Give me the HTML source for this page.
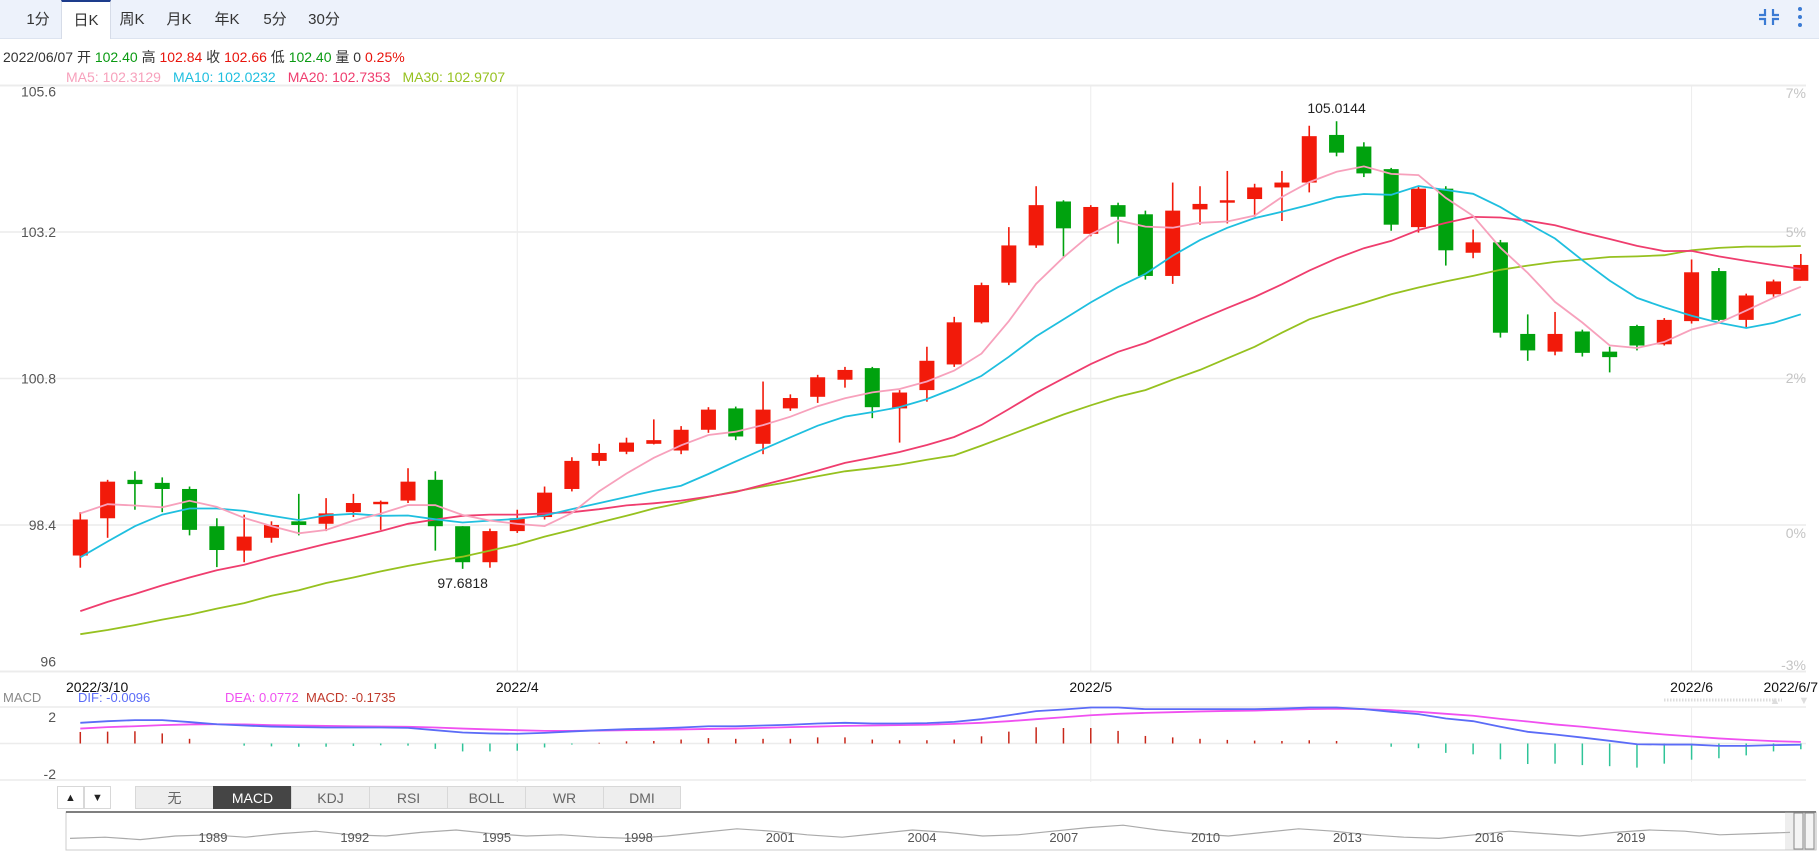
<!DOCTYPE html>
<html><head><meta charset="utf-8"><style>
html,body{margin:0;padding:0;background:#fff;width:1819px;height:863px;overflow:hidden;font-family:"Liberation Sans","Noto Sans CJK SC",sans-serif}
#tabs{position:absolute;left:0;top:0;width:1819px;height:38px;background:#edf2fb;border-bottom:1px solid #dde4f0}
.tab{position:absolute;top:0;height:38px;line-height:40px;font-size:15px;color:#333;text-align:center;width:48px}
.tab.active{background:#fff;border-top:2px solid #1d3c8c;border-left:1px solid #d6dce8;border-right:1px solid #d6dce8;height:37px;line-height:38px}
svg{position:absolute;left:0;top:0}
.btn{position:absolute;top:786px;height:23px;line-height:23px;font-size:14px;color:#666;text-align:center;background:#eeeeee;border:1px solid #d8d8d8;box-sizing:border-box}
</style></head><body>
<div id="tabs">
<div class="tab" style="left:14px">1分</div>
<div class="tab active" style="left:61px">日K</div>
<div class="tab" style="left:108px">周K</div>
<div class="tab" style="left:155px">月K</div>
<div class="tab" style="left:203px">年K</div>
<div class="tab" style="left:251px">5分</div>
<div class="tab" style="left:300px">30分</div>
</div>
<div class="btn" style="left:57px;width:27px;font-size:11px;color:#222;background:#fff">▲</div>
<div class="btn" style="left:84px;width:27px;font-size:11px;color:#222;background:#fff">▼</div>
<div class="btn" style="left:135px;width:79px">无</div>
<div class="btn" style="left:213px;width:79px;background:#454545;color:#fff;border-color:#454545">MACD</div>
<div class="btn" style="left:291px;width:79px">KDJ</div>
<div class="btn" style="left:369px;width:79px">RSI</div>
<div class="btn" style="left:447px;width:79px">BOLL</div>
<div class="btn" style="left:525px;width:79px">WR</div>
<div class="btn" style="left:603px;width:78px">DMI</div>

<svg id="chart" width="1819" height="863" xmlns="http://www.w3.org/2000/svg" font-family="Liberation Sans, Noto Sans CJK SC, sans-serif"></svg>
<script>
const opens=[97.90,98.51,99.14,99.09,98.99,98.38,97.98,98.19,98.46,98.42,98.61,98.74,98.80,99.14,98.38,97.79,98.30,98.53,98.99,99.45,99.60,99.73,99.62,99.96,100.31,99.73,100.31,100.50,100.78,100.97,100.31,100.61,101.03,101.72,102.37,102.98,103.70,103.17,103.64,103.49,102.48,103.57,103.68,103.74,103.93,104.01,104.79,104.60,104.23,103.28,103.91,102.86,103.03,101.53,101.24,101.57,101.24,101.66,101.36,101.74,102.56,101.76,102.18,102.40];
const closes=[98.49,99.11,99.07,98.99,98.32,97.99,98.21,98.40,98.40,98.59,98.76,98.78,99.11,98.38,97.79,98.30,98.51,98.93,99.45,99.58,99.75,99.79,99.96,100.29,99.85,100.29,100.48,100.82,100.94,100.33,100.57,101.09,101.72,102.33,102.98,103.64,103.26,103.61,103.45,102.48,103.55,103.66,103.72,103.93,104.01,104.77,104.50,104.16,103.32,103.91,102.90,103.03,101.55,101.26,101.53,101.22,101.15,101.34,101.76,102.54,101.76,102.16,102.39,102.66];
const highs=[98.61,99.14,99.28,99.18,99.03,98.51,98.57,98.46,98.91,98.84,98.91,98.80,99.33,99.28,98.38,98.34,98.65,99.03,99.51,99.73,99.83,100.13,100.02,100.33,100.34,100.75,100.54,100.86,100.99,100.99,100.61,101.32,101.81,102.37,103.28,103.95,103.72,103.64,103.68,103.55,104.01,103.95,104.20,103.99,104.20,104.94,105.0144,104.67,104.25,103.95,103.95,103.24,103.07,101.85,101.89,101.60,101.32,101.68,101.79,102.75,102.61,102.19,102.42,102.84];
const lows=[97.70,98.19,98.65,98.61,98.23,97.71,97.79,98.11,98.23,98.30,98.53,98.32,98.76,97.98,97.6818,97.70,98.27,98.49,98.95,99.37,99.56,99.72,99.56,99.91,99.79,99.56,100.27,100.40,100.65,100.15,99.75,100.42,100.99,101.70,102.33,102.94,102.80,103.13,103.01,102.42,102.35,103.32,103.34,103.45,103.38,103.85,104.44,104.10,103.22,103.19,102.65,102.77,101.47,101.09,101.18,101.16,100.90,101.26,101.34,101.70,101.74,101.64,102.14,102.40];
// moving average values before enough history
const ma5Head=[98.59,98.74,98.72,98.69];
const ma10Head=[97.87,98.13,98.38,98.57,98.67,98.67,98.63,98.55,98.48];
const ma20Head=[96.99,97.14,97.27,97.41,97.54,97.66,97.75,97.87,97.98,98.09,98.19,98.30,98.42,98.49,98.55,98.57,98.57,98.59,98.61];
const ma30Values=[96.61,96.68,96.76,96.85,96.93,97.03,97.12,97.24,97.33,97.45,97.54,97.64,97.73,97.81,97.88,97.98,98.08,98.21,98.32,98.44,98.55,98.67,98.76,98.86,98.95,99.03,99.11,99.20,99.28,99.33,99.39,99.47,99.54,99.70,99.87,100.04,100.21,100.36,100.50,100.61,100.78,100.94,101.13,101.32,101.55,101.77,101.91,102.04,102.18,102.29,102.39,102.48,102.58,102.65,102.71,102.75,102.79,102.80,102.82,102.90,102.94,102.96,102.96,102.97];
const difValues=[1.15,1.24,1.30,1.30,1.19,1.07,1.00,0.94,0.91,0.89,0.89,0.89,0.87,0.74,0.61,0.56,0.54,0.59,0.67,0.74,0.80,0.83,0.89,0.96,0.96,1.00,1.04,1.11,1.15,1.11,1.11,1.13,1.20,1.35,1.57,1.80,1.89,2.00,2.00,1.91,1.91,1.91,1.91,1.91,1.94,2.00,2.00,1.91,1.76,1.63,1.39,1.24,0.93,0.65,0.50,0.33,0.15,-0.04,-0.06,-0.06,-0.13,-0.13,-0.09,-0.07];
const deaValues=[0.83,0.91,0.96,1.02,1.06,1.07,1.06,1.02,1.00,0.98,0.96,0.94,0.93,0.89,0.83,0.78,0.74,0.70,0.70,0.72,0.74,0.76,0.78,0.81,0.83,0.87,0.91,0.94,0.98,1.00,1.02,1.04,1.09,1.15,1.24,1.35,1.46,1.57,1.65,1.70,1.74,1.78,1.81,1.83,1.87,1.91,1.93,1.91,1.85,1.76,1.65,1.54,1.37,1.22,1.06,0.93,0.78,0.63,0.50,0.39,0.28,0.20,0.13,0.09];
const priceTicks=[105.6,103.2,100.8,98.4,96];
const pctTicks=["7%","5%","2%","0%","-3%"];
const dateLabels=["2022/3/10","2022/4","2022/5","2022/6","2022/6/7"];
const dateIdx=[0,16,37,59,63];
const navYears=["1989","1992","1995","1998","2001","2004","2007","2010","2013","2016","2019"];
const navValues=[3,4,2,5,6,4,7,9,6,5,8,10,7,5,6,4,3,5,8,11,9,6,4,7,10,8,5,6,9,12,14,10,7,5,8,11,9,6,4,3,6,9,7,5,8,10,9,6,7,8];

const S=document.getElementById('chart');const NS='http://www.w3.org/2000/svg';
function mk(tag,attrs,parent){const e=document.createElementNS(NS,tag);for(const k in attrs)e.setAttribute(k,attrs[k]);(parent||S).appendChild(e);return e;}
function txt(t,x,y,size,fill,anchor,parent){const e=mk('text',{x:x,y:y,'font-size':size,fill:fill,'text-anchor':anchor||'start'},parent);e.textContent=t;return e;}
const X=i=>80.3+27.31*i;
const Y=p=>85.5+(105.6-p)*61.04;
const MY=v=>743.5-v*18;
const UP='#f21a0a',DN='#00a20e';

const info=mk('text',{x:3,y:62,'font-size':14,fill:'#333'});


info.innerHTML='2022/06/07 开 <tspan fill="#0a9a12">102.40</tspan> 高 <tspan fill="#e8140c">102.84</tspan> 收 <tspan fill="#e8140c">102.66</tspan> 低 <tspan fill="#0a9a12">102.40</tspan> 量 0 <tspan fill="#e8140c">0.25%</tspan>';
const mal=mk('text',{x:66,y:82,'font-size':14});


mal.innerHTML='<tspan fill="#f7a1bc">MA5: 102.3129</tspan><tspan dx="12" fill="#1fbfdf">MA10: 102.0232</tspan><tspan dx="12" fill="#ef3d6e">MA20: 102.7353</tspan><tspan dx="12" fill="#96c11f">MA30: 102.9707</tspan>';

const grid=mk('g',{});


priceTicks.forEach((p,k)=>{mk('line',{x1:0,x2:1806,y1:Y(p),y2:Y(p),stroke:'#ececec','stroke-width':k==0||k==4?2:1.5},grid);});
mk('line',{x1:0,x2:1806,y1:707,y2:707,stroke:'#ececec','stroke-width':1.5},grid);
mk('line',{x1:0,x2:1806,y1:MY(0),y2:MY(0),stroke:'#ececec','stroke-width':1.5},grid);
mk('line',{x1:0,x2:1806,y1:780,y2:780,stroke:'#ececec','stroke-width':1.5},grid);
[1,2,3].forEach(k=>{const x=X(dateIdx[k]);mk('line',{x1:x,x2:x,y1:86,y2:672,stroke:'#ececec','stroke-width':1},grid);mk('line',{x1:x,x2:x,y1:707,y2:782,stroke:'#ececec','stroke-width':1},grid);});
const pyOff=[8,5,5,5,-5];
priceTicks.forEach((p,k)=>{const t=txt(String(p),56,Y(p)+pyOff[k]+(k==0?3:0),14,'#555','end');

});
const pcY=[98,237,383,538,670];
pctTicks.forEach((s,k)=>{const t=txt(s,1806,pcY[k],14,'#c4c4c4','end');

});

function maSeries(head,n){const out=[];for(let i=0;i<closes.length;i++){if(i<head.length)out.push(head[i]);else{let s=0;for(let j=i-n+1;j<=i;j++)s+=closes[j];out.push(s/n);}}return out;}
const maDefs=[[ma30Values,30,'#96c11f','ma30-line'],[ma20Head,20,'#ef3d6e','ma20-line'],[ma10Head,10,'#1fbfdf','ma10-line'],[ma5Head,5,'#f7a1bc','ma5-line']];
const cg=mk('g',{});


for(let i=0;i<closes.length;i++){
  const up=closes[i]>=opens[i];const c=up?UP:DN;const x=X(i);
  const g=mk('g',{},cg);
  
  
  mk('line',{x1:x,x2:x,y1:Y(highs[i]),y2:Y(lows[i]),stroke:c,'stroke-width':1.6},g);
  const t=Y(Math.max(opens[i],closes[i])),b=Y(Math.min(opens[i],closes[i]));
  mk('rect',{x:x-7.5,y:t,width:15,height:Math.max(b-t,2),fill:c},g);
}
maDefs.forEach(d=>{const v=maSeries(d[0],d[1]);const pts=v.map((p,i)=>X(i).toFixed(1)+','+Y(p).toFixed(1)).join(' ');
const l=mk('polyline',{points:pts,fill:'none',stroke:d[2],'stroke-width':1.8});

});

let hi=0,lo=0;highs.forEach((h,i)=>{if(h>highs[hi])hi=i;});lows.forEach((l,i)=>{if(l<lows[lo])lo=i;});
const ha=txt(highs[hi].toFixed(4),X(hi),Y(highs[hi])-8,14,'#222','middle');


const la=txt(lows[lo].toFixed(4),X(lo),Y(lows[lo])+19,14,'#222','middle');



dateLabels.forEach((s,k)=>{const a=k==0?'start':(k==4?'end':'middle');const x=k==0?66:(k==4?1818:X(dateIdx[k]));
const t=txt(s,x,692,14,'#111',a);

});
const dots=mk('line',{x1:1664,x2:1782,y1:700,y2:700,stroke:'#ddd','stroke-width':3,'stroke-dasharray':'1.5,1.5'});


const ua=txt('▲',1775,704,11,'#ddd','middle');


const da=txt('▼',1804,704,11,'#ddd','middle');



const ml=mk('text',{x:3,y:702,'font-size':13});


ml.innerHTML='<tspan fill="#888">MACD</tspan><tspan x="78" fill="#5b6cf7">DIF: -0.0096</tspan><tspan x="225" fill="#f050f0">DEA: 0.0772</tspan><tspan x="306" fill="#c0392b">MACD: -0.1735</tspan>';
const m2=txt('2',56,722,14,'#555','end');


const m3=txt('-2',56,779,14,'#555','end');


const hg=mk('g',{});


difValues.forEach((d,i)=>{const h=2*(d-deaValues[i]);const x=X(i);
const b=mk('line',{x1:x,x2:x,y1:MY(0),y2:MY(h),stroke:h>=0?'#c8271a':'#2fc498','stroke-width':1.5},hg);

});
const deaL=mk('polyline',{points:deaValues.map((v,i)=>X(i)+','+MY(v)).join(' '),fill:'none',stroke:'#f050f0','stroke-width':1.8});


const difL=mk('polyline',{points:difValues.map((v,i)=>X(i)+','+MY(v)).join(' '),fill:'none',stroke:'#5b6cf7','stroke-width':1.8});



const nav=mk('g',{});


mk('rect',{x:66,y:812,width:1750,height:38,fill:'#fff',stroke:'#ccc'},nav);
mk('line',{x1:66,x2:1816,y1:812,y2:812,stroke:'#555','stroke-width':1.5},nav);
const nstep=(1790-70)/(navValues.length-1);
const np=navValues.map((v,i)=>(70+i*nstep).toFixed(1)+','+(842-v*1.2).toFixed(1)).join(' ');
const nl=mk('polyline',{points:np,fill:'none',stroke:'#aaa','stroke-width':1.2},nav);


navYears.forEach((y,k)=>{const t=txt(y,213+k*141.8,842,13,'#555','middle',nav);

});
const hd=mk('g',{},nav);


mk('rect',{x:1785,y:812,width:32,height:38,fill:'rgba(200,200,200,0.3)'},hd);
mk('rect',{x:1794,y:813,width:9,height:36,fill:'#f4f4f4',stroke:'#888'},hd);
mk('rect',{x:1805,y:813,width:9,height:36,fill:'#f4f4f4',stroke:'#888'},hd);

const ic=mk('g',{stroke:'#3b7bd4','stroke-width':2.2,fill:'none'});


mk('path',{d:'M1765 9v6h-6M1773 9v6h6M1765 25v-6h-6M1773 25v-6h6'},ic);
const km=mk('g',{fill:'#3b7bd4'});


[9,17,25].forEach(y=>mk('circle',{cx:1800,cy:y,r:2},km));
</script>
</body></html>
